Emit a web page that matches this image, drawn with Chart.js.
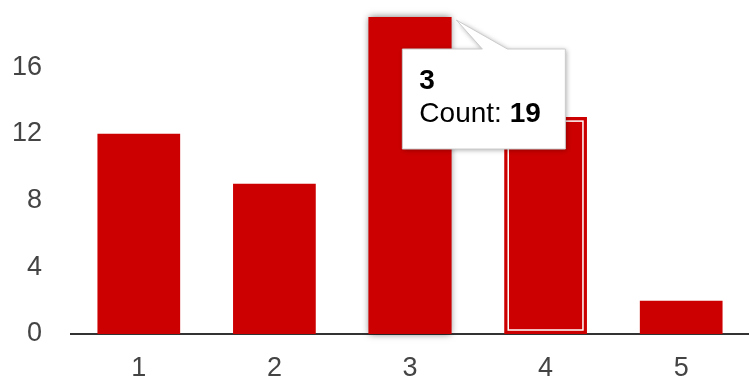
<!DOCTYPE html>
<html>
<head>
<meta charset="utf-8">
<script src="https://cdn.jsdelivr.net/npm/chart.js@4/dist/chart.umd.min.js"></script>
<style>
  html, body { margin: 0; padding: 0; background: #fff; }
  #wrap { width: 749px; height: 378px; }
</style>
</head>
<body>
<div id="wrap"><canvas id="chart"></canvas></div>
<script>
const categories = ['1', '2', '3', '4', '5'];
const counts = [12, 9, 19, 13, 2];
const yTicks = [0, 4, 8, 12, 16];
const seriesName = 'Count';
const hoveredIndex = 2;
const selectedIndex = 3;

const FONT = 'Arial, "Liberation Sans", sans-serif';
const RED = '#cc0000';

// hover shadow under bar 3, selection ring on bar 4, tooltip on top
const decorations = {
  id: 'decorations',
  beforeDatasetsDraw(chart) {
    const bar = chart.getDatasetMeta(0).data[hoveredIndex];
    if (!bar) return;
    const { ctx } = chart;
    const w = bar.width;
    ctx.save();
    ctx.shadowColor = 'rgba(0,0,0,0.55)';
    ctx.shadowBlur = 7;
    ctx.fillStyle = RED;
    ctx.fillRect(bar.x - w / 2, bar.y, w, bar.base - bar.y);
    ctx.restore();
  },
  afterDatasetsDraw(chart) {
    const bar = chart.getDatasetMeta(0).data[selectedIndex];
    if (!bar) return;
    const { ctx } = chart;
    const w = bar.width;
    ctx.save();
    ctx.strokeStyle = '#ffffff';
    ctx.lineWidth = 1.5;
    ctx.strokeRect(bar.x - w / 2 + 4, bar.y + 4, w - 8, bar.base - bar.y - 8);
    ctx.restore();
  },
  afterDraw(chart) {
    const bar = chart.getDatasetMeta(0).data[hoveredIndex];
    if (!bar) return;
    const { ctx } = chart;
    const apexX = bar.x + bar.width / 2 + 5, apexY = bar.y + 3;
    const left = apexX - 54, top = apexY + 29, w = 163, h = 100;
    ctx.save();
    ctx.beginPath();
    ctx.moveTo(left, top);
    ctx.lineTo(apexX + 26, top);
    ctx.lineTo(apexX, apexY);
    ctx.lineTo(apexX + 51, top);
    ctx.lineTo(left + w, top);
    ctx.lineTo(left + w, top + h);
    ctx.lineTo(left, top + h);
    ctx.closePath();
    ctx.shadowColor = 'rgba(0,0,0,0.35)';
    ctx.shadowBlur = 5;
    ctx.shadowOffsetX = 1;
    ctx.shadowOffsetY = 1;
    ctx.fillStyle = '#ffffff';
    ctx.fill();
    ctx.shadowColor = 'transparent';
    ctx.strokeStyle = '#cccccc';
    ctx.lineWidth = 1;
    ctx.stroke();

    ctx.fillStyle = '#000000';
    ctx.textBaseline = 'middle';
    ctx.textAlign = 'left';
    ctx.font = 'bold 28px ' + FONT;
    ctx.fillText(categories[hoveredIndex], left + 17, top + 32);
    ctx.font = '28px ' + FONT;
    const label = seriesName + ': ';
    ctx.fillText(label, left + 17, top + 65);
    const lw = ctx.measureText(label).width;
    ctx.font = 'bold 28px ' + FONT;
    ctx.fillText(String(counts[hoveredIndex]), left + 17 + lw, top + 65);
    ctx.restore();
  }
};

new Chart(document.getElementById('chart'), {
  type: 'bar',
  data: {
    labels: categories,
    datasets: [{
      label: seriesName,
      data: counts,
      backgroundColor: RED,
      borderWidth: 0,
      barPercentage: 0.61,
      categoryPercentage: 1.0,
    }],
  },
  options: {
    responsive: true,
    maintainAspectRatio: false,
    animation: false,
    events: [],
    layout: { padding: { top: 17, right: 0, left: 0, bottom: 0 } },
    plugins: { legend: { display: false }, tooltip: { enabled: false } },
    scales: {
      x: {
        grid: { display: false, drawTicks: false },
        border: { display: true, color: '#333333', width: 2 },
        ticks: { color: '#444444', font: { family: FONT, size: 27 }, padding: 18 },
        afterFit: s => { s.height = 44; s.paddingLeft = 0; s.paddingRight = 0; },
      },
      y: {
        min: 0,
        max: 19,
        grid: { display: false, drawTicks: false },
        border: { display: false },
        ticks: { color: '#444444', font: { family: FONT, size: 27 }, padding: 29 },
        afterBuildTicks: s => { s.ticks = yTicks.map(v => ({ value: v })); },
        afterFit: s => { s.width = 71; s.paddingTop = 0; s.paddingBottom = 0; },
      },
    },
  },
  plugins: [decorations],
});
</script>
</body>
</html>
